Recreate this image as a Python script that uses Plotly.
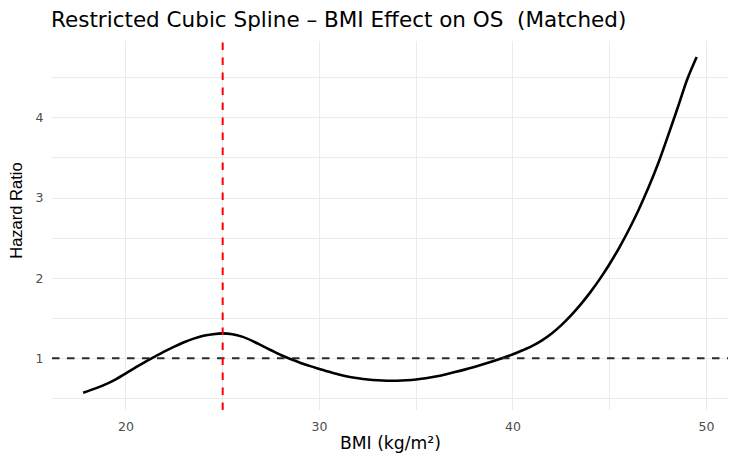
import plotly.graph_objects as go

# ---- data ----
bmi = [17.79, 18.5, 19.0, 19.5, 20.0, 20.5, 21.0, 21.5, 22.0, 22.5,
       23.0, 23.5, 24.0, 24.5, 25.0, 25.5, 26.0, 26.5, 27.0, 27.5,
       28.0, 28.5, 29.0, 29.5, 30.0, 30.5, 31.0, 31.5, 32.0, 32.5,
       33.0, 33.5, 34.0, 34.5, 35.0, 35.5, 36.0, 36.5, 37.0, 37.5,
       38.0, 38.5, 39.0, 39.5, 40.0, 40.5, 41.0, 41.5, 42.0, 42.5,
       43.0, 43.5, 44.0, 44.5, 45.0, 45.5, 46.0, 46.5, 47.0, 47.5,
       48.0, 48.5, 49.0, 49.49]
hr = [0.57, 0.63, 0.68, 0.74, 0.81, 0.885, 0.955, 1.02, 1.085, 1.145,
      1.20, 1.245, 1.28, 1.30, 1.31, 1.30, 1.27, 1.22, 1.16, 1.10,
      1.04, 0.99, 0.945, 0.905, 0.865, 0.83, 0.797, 0.77, 0.75, 0.735,
      0.725, 0.72, 0.72, 0.725, 0.735, 0.75, 0.772, 0.798, 0.827, 0.858,
      0.892, 0.928, 0.965, 1.005, 1.05, 1.10, 1.155, 1.224, 1.31, 1.414,
      1.535, 1.672, 1.825, 1.994, 2.18, 2.385, 2.61, 2.857, 3.13, 3.43,
      3.77, 4.12, 4.48, 4.76]

BMI_REF = 25
HR_REF = 1
x_ticks = [20, 30, 40, 50]
x_minor = [25, 35, 45]
y_ticks = [1, 2, 3, 4]
y_minor = [0.5, 1.5, 2.5, 3.5, 4.5]

TITLE = "Restricted Cubic Spline \u2013 BMI Effect on OS\u00a0 (Matched)"
X_TITLE = "BMI (kg/m\u00b2)"
Y_TITLE = "Hazard Ratio"

FONT = "DejaVu Sans, Liberation Sans, Arial, sans-serif"
FONT_V = "Liberation Sans, Arial, sans-serif"
GRID = "#EBEBEB"

fig = go.Figure()
fig.add_trace(go.Scatter(
    x=bmi, y=hr, mode="lines",
    line=dict(color="black", width=2.6, shape="spline", smoothing=0.8),
    hoverinfo="skip", showlegend=False))

fig.add_hline(y=HR_REF, line=dict(color="#2a2a2a", width=2, dash="7.5px,7.5px"))
fig.add_vline(x=BMI_REF, line=dict(color="red", width=2, dash="7.5px,7.5px"))

axis_common = dict(
    showline=False, zeroline=False,
    showgrid=True, gridcolor=GRID, gridwidth=1.3,
    ticks="outside", ticklen=5, tickcolor="rgba(0,0,0,0)",
    tickfont=dict(family=FONT, size=12.5, color="#4D4D4D"),
)

fig.update_layout(
    width=738, height=457,
    margin=dict(l=52, r=10, t=41, b=47),
    paper_bgcolor="white", plot_bgcolor="white",
    font=dict(family=FONT, color="black"),
    xaxis=dict(range=[16.18, 51.11], tickmode="array", tickvals=x_ticks,
               minor=dict(tickmode="array", tickvals=x_minor, showgrid=True,
                          gridcolor=GRID, gridwidth=1.0),
               **axis_common),
    yaxis=dict(range=[0.354, 4.96], tickmode="array", tickvals=y_ticks,
               minor=dict(tickmode="array", tickvals=y_minor, showgrid=True,
                          gridcolor=GRID, gridwidth=1.0),
               **axis_common),
    annotations=[
        dict(text=TITLE, xref="paper", yref="paper", x=0, y=1.0583,
             xanchor="left", yanchor="middle", showarrow=False, xshift=-3,
             font=dict(family=FONT, size=21.5, color="black")),
        dict(text=X_TITLE, xref="paper", yref="paper", x=0.5, y=-0.0896,
             xanchor="center", yanchor="middle", showarrow=False,
             font=dict(family=FONT, size=17.2, color="black")),
        dict(text=Y_TITLE, xref="paper", yref="paper", x=-0.0525, y=0.5387,
             xanchor="center", yanchor="middle", showarrow=False, textangle=-90,
             font=dict(family=FONT_V, size=16.5, color="black")),
    ],
)

fig.write_html("out.html")
